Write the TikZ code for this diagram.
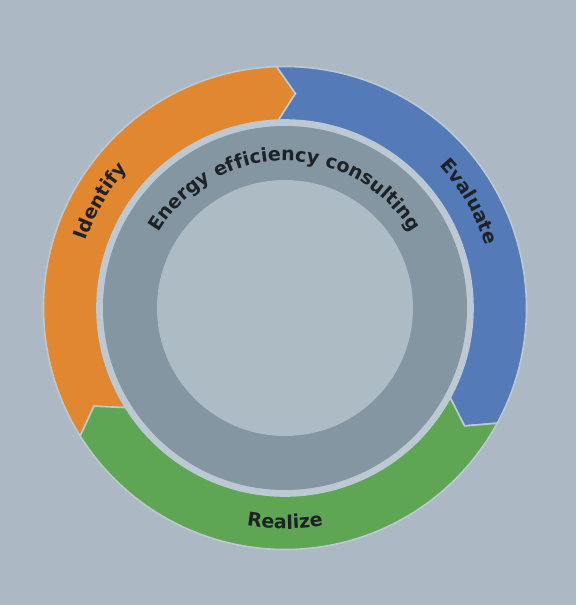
\documentclass[tikz,border=0pt]{standalone}
\usepackage{fontspec}
\setmainfont{DejaVu Sans}
\usetikzlibrary{decorations.text}
\definecolor{bgc}{HTML}{ACB9C4}
\definecolor{sep}{HTML}{BCC9D2}
\definecolor{orangec}{HTML}{E08730}
\definecolor{bluec}{HTML}{547AB7}
\definecolor{greenc}{HTML}{5EA654}
\definecolor{grayring}{HTML}{8396A2}
\definecolor{innerc}{HTML}{ADBBC5}
\definecolor{txt}{HTML}{1E2226}
\newcommand\lblfont{\fontsize{19}{21}\selectfont\bfseries}
\newcommand\ringseg[3]{%
  \fill[#1, draw=sep, line width=1.6pt, line join=miter]
    ({#3}:188pt) arc[start angle={#3}, end angle={#2}, radius=188pt]
    -- ({#2-4.8}:214.75pt) -- ({#2}:241.5pt)
    arc[start angle={#2}, end angle={#3}, radius=241.5pt]
    -- ({#3-4.8}:214.75pt) -- cycle;}
\tikzset{
  curvetext/.style={decorate, decoration={text along path, text format delimiters={|}{|},
    text={|\lblfont|#1}, text align=center, text color=txt}}
}
\begin{document}
\begin{tikzpicture}[x=1pt,y=1pt]
\useasboundingbox[fill=bgc] (-285,-297) rectangle (291,308);
% colored arrow segments
\ringseg{orangec}{92}{212}
\ringseg{bluec}{-28.5}{92}
\ringseg{greenc}{-148}{-28.5}
% light band and gray ring
\fill[sep] (0,0) circle[radius=187.5pt];
\fill[grayring] (0,0) circle[radius=182pt];
\fill[innerc] (0,0) circle[radius=128pt];
% labels
\path[curvetext={Energy efficiency consulting}] (178:147pt) arc[start angle=178, end angle=2, radius=147pt];
\path[curvetext={Identify}] (185:210pt) arc[start angle=185, end angle=115, radius=210pt];
\path[curvetext={Evaluate}] (65:210pt) arc[start angle=65, end angle=-5, radius=210pt];
\path[curvetext={Realize}] (235:221pt) arc[start angle=235, end angle=305, radius=221pt];
\end{tikzpicture}
\end{document}
